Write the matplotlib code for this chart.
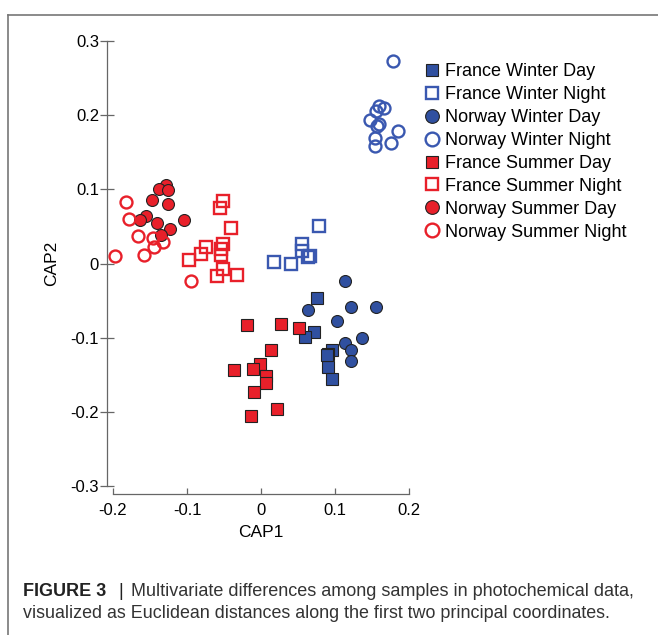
import matplotlib.pyplot as plt
from matplotlib.lines import Line2D

# CAP coordinates, one pair of lists per group
fr_win_day_x = [0.076, 0.072, 0.059, 0.096, 0.090, 0.091, 0.096, 0.089]
fr_win_day_y = [-0.046, -0.092, -0.099, -0.116, -0.122, -0.139, -0.156, -0.124]
fr_win_night_x = [0.079, 0.056, 0.056, 0.066, 0.063, 0.017, 0.041]
fr_win_night_y = [0.050, 0.026, 0.017, 0.010, 0.009, 0.002, -0.001]
no_win_day_x = [0.113, 0.063, 0.121, 0.156, 0.103, 0.136, 0.113, 0.121, 0.121]
no_win_day_y = [-0.023, -0.063, -0.058, -0.058, -0.078, -0.101, -0.107, -0.117, -0.131]
no_win_night_x = [0.179, 0.160, 0.166, 0.156, 0.147, 0.160, 0.157, 0.185, 0.154, 0.175, 0.154]
no_win_night_y = [0.273, 0.212, 0.209, 0.206, 0.193, 0.188, 0.186, 0.179, 0.169, 0.163, 0.158]
fr_sum_day_x = [-0.019, 0.027, 0.051, 0.013, -0.001, -0.036, -0.011, 0.007, 0.007, -0.009, 0.022, -0.014]
fr_sum_day_y = [-0.083, -0.081, -0.087, -0.117, -0.136, -0.144, -0.142, -0.152, -0.161, -0.173, -0.196, -0.206]
fr_sum_night_x = [-0.051, -0.056, -0.040, -0.075, -0.081, -0.097, -0.052, -0.054, -0.054, -0.052, -0.060, -0.032]
fr_sum_night_y = [0.084, 0.075, 0.048, 0.022, 0.013, 0.005, 0.026, 0.020, 0.012, -0.007, -0.017, -0.015]
no_sum_day_x = [-0.128, -0.138, -0.126, -0.147, -0.126, -0.156, -0.163, -0.141, -0.104, -0.123, -0.135]
no_sum_day_y = [0.106, 0.100, 0.099, 0.085, 0.080, 0.064, 0.058, 0.055, 0.059, 0.046, 0.038]
no_sum_night_x = [-0.183, -0.178, -0.166, -0.146, -0.145, -0.132, -0.158, -0.197, -0.095]
no_sum_night_y = [0.083, 0.060, 0.037, 0.034, 0.022, 0.029, 0.012, 0.010, -0.024]

labels = ["France Winter Day", "France Winter Night", "Norway Winter Day", "Norway Winter Night",
          "France Summer Day", "France Summer Night", "Norway Summer Day", "Norway Summer Night"]

BLUE = '#3050a0'
BLUE_OPEN = '#3a58b0'
RED = '#e8202a'
EDGE = '#222222'

plt.rcParams['font.family'] = ['Liberation Sans', 'DejaVu Sans']

fig = plt.figure(figsize=(6.58, 6.35), dpi=100)
ax = fig.add_axes([113 / 658, 1 - 486 / 635, 296 / 658, 445 / 635])

groups = [
    (fr_win_day_x, fr_win_day_y, 's', BLUE, EDGE, 0.8),
    (fr_win_night_x, fr_win_night_y, 's', 'none', BLUE_OPEN, 1.7),
    (no_win_day_x, no_win_day_y, 'o', BLUE, EDGE, 0.8),
    (no_win_night_x, no_win_night_y, 'o', 'none', BLUE_OPEN, 1.7),
    (fr_sum_day_x, fr_sum_day_y, 's', RED, EDGE, 0.8),
    (fr_sum_night_x, fr_sum_night_y, 's', 'none', RED, 1.7),
    (no_sum_day_x, no_sum_day_y, 'o', RED, EDGE, 0.8),
    (no_sum_night_x, no_sum_night_y, 'o', 'none', RED, 1.7),
]

for (gx, gy, mk, fc, ec, lw), lab in zip(groups, labels):
    size = 8.6 if mk == 'o' else 8.0
    ax.plot(gx, gy, linestyle='none', marker=mk, markersize=size, markerfacecolor=fc,
            markeredgecolor=ec, markeredgewidth=lw, label=lab, clip_on=False)

ax.set_xlim(-0.2, 0.2)
ax.set_ylim(-0.3, 0.3)
ax.set_xticks([-0.2, -0.1, 0, 0.1, 0.2])
ax.set_xticklabels(['-0.2', '-0.1', '0', '0.1', '0.2'])
ax.set_yticks([-0.3, -0.2, -0.1, 0, 0.1, 0.2, 0.3])
ax.set_yticklabels(['-0.3', '-0.2', '-0.1', '0', '0.1', '0.2', '0.3'])

for s in ['top', 'right']:
    ax.spines[s].set_visible(False)
ax.spines['left'].set_position(('outward', 4.3))
ax.spines['bottom'].set_position(('outward', 5.5))
for s in ['left', 'bottom']:
    ax.spines[s].set_color('#666666')
    ax.spines[s].set_linewidth(0.9)

ax.tick_params(axis='y', direction='inout', length=9.5, width=0.9, color='#666666',
               pad=1, labelsize=12)
ax.tick_params(axis='x', direction='in', length=4.5, width=0.9, color='#666666',
               pad=7, labelsize=12)

ax.set_xlabel('CAP1', fontsize=12.5, labelpad=4.5)
ax.set_ylabel('CAP2', fontsize=12.5, labelpad=8)

leg = ax.legend(loc='upper left', bbox_to_anchor=(427 / 658, 1 - 63 / 635),
                bbox_transform=fig.transFigure, frameon=False, fontsize=13,
                handlelength=0.6, handletextpad=0.4, labelspacing=0.33,
                markerscale=1.15, borderpad=0, borderaxespad=0)

# outer figure frame (left and top only)
fig.add_artist(Line2D([8 / 658, 8 / 658], [0, 1 - 15 / 635], transform=fig.transFigure,
                      color='#777777', linewidth=1.2))
fig.add_artist(Line2D([8 / 658, 1], [1 - 15 / 635, 1 - 15 / 635], transform=fig.transFigure,
                      color='#777777', linewidth=1.2))

# caption
cap_y1 = 1 - 591 / 635
cap_y2 = 1 - 613 / 635
fig.text(23 / 658, cap_y1, 'FIGURE 3', fontsize=13, fontweight='bold',
         color='#222222', va='center')
fig.text(118 / 658, cap_y1, '|', fontsize=13, color='#222222', va='center')
fig.text(131 / 658, cap_y1,
         'Multivariate differences among samples in photochemical data,',
         fontsize=13, color='#333333', va='center')
fig.text(23 / 658, cap_y2,
         'visualized as Euclidean distances along the first two principal coordinates.',
         fontsize=12.9, color='#333333', va='center')

plt.savefig('out.png', dpi=100)
